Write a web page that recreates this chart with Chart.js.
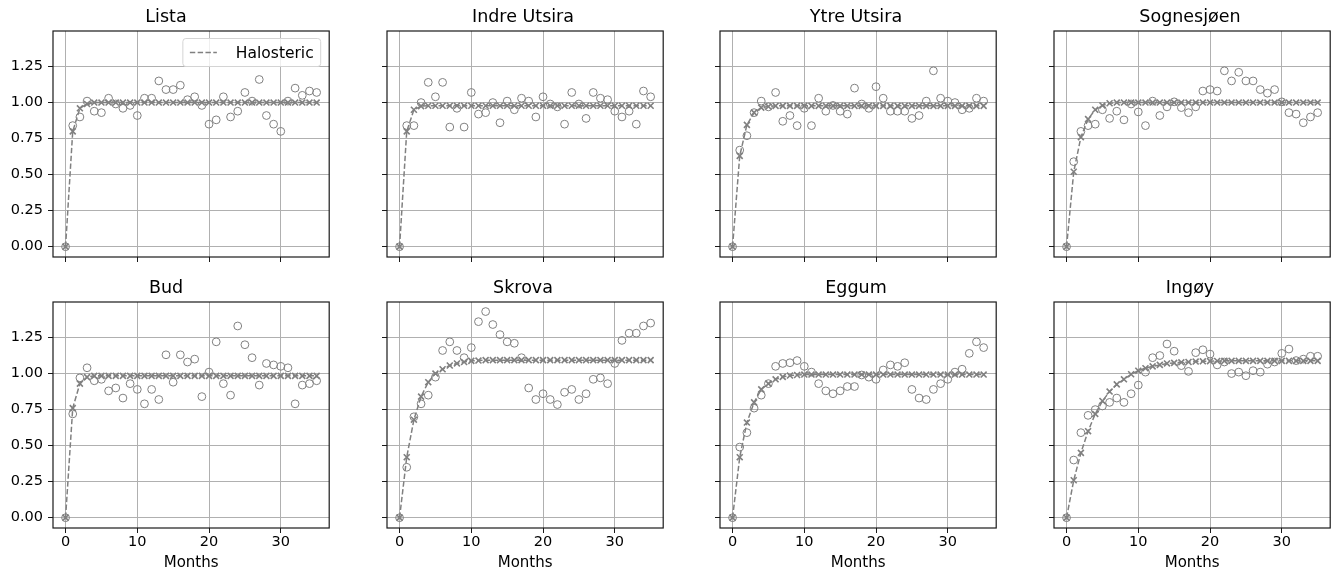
<!DOCTYPE html>
<html>
<head>
<meta charset="utf-8">
<script src="https://cdn.jsdelivr.net/npm/chart.js@4.4.1/dist/chart.umd.min.js"></script>
<style>
  html, body { margin: 0; padding: 0; background: #fff; }
  #fig { position: relative; width: 1335px; height: 575px; overflow: hidden; }
  .cell { position: absolute; }
</style>
</head>
<body>
<div id="fig"></div>
<script>
Chart.defaults.font.family = "'DejaVu Sans', sans-serif";
Chart.defaults.color = '#000';

const GRAY = '#808080';

const MONTHS = [0, 1, 2, 3, 4, 5, 6, 7, 8, 9, 10, 11, 12, 13, 14, 15, 16, 17,
  18, 19, 20, 21, 22, 23, 24, 25, 26, 27, 28, 29, 30, 31, 32, 33, 34, 35];
const X_TICKS = [0, 10, 20, 30];
const Y_TICKS = [0, 0.25, 0.5, 0.75, 1.0, 1.25];

const STATIONS = ['Lista', 'Indre Utsira', 'Ytre Utsira', 'Sognesjøen', 'Bud', 'Skrova', 'Eggum', 'Ingøy'];

// observed (circles)
const LISTA_OBS = [0, 0.84, 0.90, 1.01, 0.94, 0.93, 1.03, 0.99, 0.96, 0.98, 0.91, 1.03, 1.03, 1.15, 1.09, 1.09, 1.12, 1.02,
  1.04, 0.98, 0.85, 0.88, 1.04, 0.90, 0.94, 1.07, 1.01, 1.16, 0.91, 0.85, 0.80, 1.01, 1.10, 1.05, 1.08, 1.07];
const INDRE_OBS = [0, 0.84, 0.84, 1.00, 1.14, 1.04, 1.14, 0.83, 0.96, 0.83, 1.07, 0.92, 0.93, 1.00, 0.86, 1.01, 0.95, 1.03,
  1.01, 0.90, 1.04, 0.99, 0.97, 0.85, 1.07, 0.99, 0.89, 1.07, 1.03, 1.02, 0.94, 0.90, 0.94, 0.85, 1.08, 1.04];
const YTRE_OBS = [0, 0.67, 0.77, 0.93, 1.01, 0.97, 1.07, 0.87, 0.91, 0.84, 0.96, 0.84, 1.03, 0.94, 0.98, 0.94, 0.92, 1.10,
  0.99, 0.96, 1.11, 1.03, 0.94, 0.94, 0.94, 0.89, 0.91, 1.01, 1.22, 1.03, 1.01, 1.00, 0.95, 0.96, 1.03, 1.01];
const SOGN_OBS = [0, 0.59, 0.80, 0.84, 0.85, 0.95, 0.89, 0.94, 0.88, 0.99, 0.935, 0.84, 1.01, 0.91, 0.97, 1.005, 0.965, 0.93,
  0.97, 1.08, 1.09, 1.08, 1.22, 1.15, 1.21, 1.15, 1.15, 1.09, 1.065, 1.09, 1.005, 0.93, 0.92, 0.86, 0.90, 0.93];
const BUD_OBS = [0, 0.72, 0.97, 1.04, 0.95, 0.96, 0.88, 0.90, 0.83, 0.93, 0.89, 0.79, 0.89, 0.82, 1.13, 0.94, 1.13, 1.08,
  1.10, 0.84, 1.01, 1.22, 0.93, 0.85, 1.33, 1.20, 1.11, 0.92, 1.07, 1.06, 1.05, 1.04, 0.79, 0.92, 0.93, 0.95];
const SKROVA_OBS = [0, 0.35, 0.70, 0.79, 0.85, 0.975, 1.16, 1.22, 1.16, 1.11, 1.18, 1.36, 1.43, 1.34, 1.27, 1.22, 1.21, 1.11,
  0.90, 0.82, 0.86, 0.82, 0.785, 0.87, 0.89, 0.82, 0.86, 0.96, 0.97, 0.93, 1.07, 1.23, 1.28, 1.28, 1.33, 1.35];
const EGGUM_OBS = [0, 0.49, 0.59, 0.76, 0.85, 0.93, 1.05, 1.07, 1.075, 1.09, 1.05, 1.01, 0.93, 0.88, 0.86, 0.88, 0.91, 0.91,
  0.99, 0.975, 0.96, 1.025, 1.06, 1.05, 1.075, 0.89, 0.83, 0.82, 0.89, 0.93, 0.96, 1.01, 1.03, 1.14, 1.22, 1.18];
const INGOY_OBS = [0, 0.40, 0.59, 0.71, 0.75, 0.775, 0.80, 0.83, 0.80, 0.86, 0.92, 1.01, 1.11, 1.125, 1.205, 1.155, 1.055, 1.015,
  1.145, 1.165, 1.135, 1.06, 1.08, 1.00, 1.01, 0.985, 1.02, 1.01, 1.065, 1.08, 1.14, 1.17, 1.09, 1.10, 1.12, 1.12];

// fitted halosteric response (x markers, dashed)
const LISTA_FIT = [0, 0.80, 0.96, 0.99, 1.0, 1.0, 1.0, 1.0, 1.0, 1.0, 1.0, 1.0, 1.0, 1.0, 1.0, 1.0, 1.0, 1.0,
  1.0, 1.0, 1.0, 1.0, 1.0, 1.0, 1.0, 1.0, 1.0, 1.0, 1.0, 1.0, 1.0, 1.0, 1.0, 1.0, 1.0, 1.0];
const INDRE_FIT = [0, 0.80, 0.95, 0.975, 0.978, 0.978, 0.978, 0.978, 0.978, 0.978, 0.978, 0.978, 0.978, 0.978, 0.978, 0.978, 0.978, 0.978,
  0.978, 0.978, 0.978, 0.978, 0.978, 0.978, 0.978, 0.978, 0.978, 0.978, 0.978, 0.978, 0.978, 0.978, 0.978, 0.978, 0.978, 0.978];
const YTRE_FIT = [0, 0.63, 0.845, 0.93, 0.965, 0.972, 0.977, 0.977, 0.977, 0.977, 0.977, 0.977, 0.977, 0.977, 0.977, 0.977, 0.977, 0.977,
  0.977, 0.977, 0.977, 0.977, 0.977, 0.977, 0.977, 0.977, 0.977, 0.977, 0.977, 0.977, 0.977, 0.977, 0.977, 0.977, 0.977, 0.977];
const SOGN_FIT = [0, 0.52, 0.76, 0.885, 0.95, 0.98, 0.995, 1.0, 1.0, 1.0, 1.0, 1.0, 1.0, 1.0, 1.0, 1.0, 1.0, 1.0,
  1.0, 1.0, 1.0, 1.0, 1.0, 1.0, 1.0, 1.0, 1.0, 1.0, 1.0, 1.0, 1.0, 1.0, 1.0, 1.0, 1.0, 1.0];
const BUD_FIT = [0, 0.76, 0.93, 0.975, 0.984, 0.984, 0.984, 0.984, 0.984, 0.984, 0.984, 0.984, 0.984, 0.984, 0.984, 0.984, 0.984, 0.984,
  0.984, 0.984, 0.984, 0.984, 0.984, 0.984, 0.984, 0.984, 0.984, 0.984, 0.984, 0.984, 0.984, 0.984, 0.984, 0.984, 0.984, 0.984];
const SKROVA_FIT = [0, 0.42, 0.68, 0.84, 0.94, 1.0, 1.03, 1.056, 1.07, 1.08, 1.088, 1.09, 1.093, 1.093, 1.093, 1.093, 1.093, 1.093,
  1.093, 1.093, 1.093, 1.093, 1.093, 1.093, 1.093, 1.093, 1.093, 1.093, 1.093, 1.093, 1.093, 1.093, 1.093, 1.093, 1.093, 1.093];
const EGGUM_FIT = [0, 0.42, 0.66, 0.80, 0.89, 0.93, 0.96, 0.977, 0.986, 0.99, 0.993, 0.993, 0.993, 0.993, 0.993, 0.993, 0.993, 0.993,
  0.993, 0.993, 0.993, 0.993, 0.993, 0.993, 0.993, 0.993, 0.993, 0.993, 0.993, 0.993, 0.993, 0.993, 0.993, 0.993, 0.993, 0.993];
const INGOY_FIT = [0, 0.26, 0.45, 0.60, 0.72, 0.81, 0.875, 0.925, 0.96, 0.995, 1.02, 1.037, 1.05, 1.06, 1.07, 1.074, 1.078, 1.08,
  1.083, 1.085, 1.086, 1.087, 1.088, 1.088, 1.088, 1.088, 1.088, 1.088, 1.088, 1.088, 1.088, 1.088, 1.088, 1.088, 1.088, 1.088];

const OBS = [LISTA_OBS, INDRE_OBS, YTRE_OBS, SOGN_OBS, BUD_OBS, SKROVA_OBS, EGGUM_OBS, INGOY_OBS];
const FIT = [LISTA_FIT, INDRE_FIT, YTRE_FIT, SOGN_FIT, BUD_FIT, SKROVA_FIT, EGGUM_FIT, INGOY_FIT];

// subplot geometry (plot area of each panel)
const AX_LEFT = [53, 387, 720, 1054];
const AX_TOP = [31, 302];
const AX_W = 279;
const AX_H = 226;
const TITLE_H = 31;

const toPoints = (ys) => MONTHS.map((m, i) => ({ x: m, y: ys[i] }));

// black frame round the plot area, like matplotlib spines
const frame = {
  id: 'frame',
  afterDatasetsDraw(chart) {
    const { ctx, chartArea: a } = chart;
    ctx.save();
    ctx.strokeStyle = '#1a1a1a';
    ctx.lineWidth = 1.2;
    ctx.strokeRect(a.left, a.top, a.right - a.left, a.bottom - a.top);
    ctx.restore();
  }
};

// legend box drawn inside the plot area (upper right)
const legendInside = {
  id: 'legendInside',
  afterDraw(chart, args, opts) {
    if (!opts.show) return;
    const ds = chart.data.datasets[0];
    const { ctx, chartArea } = chart;
    ctx.save();
    ctx.font = "15.5px 'DejaVu Sans'";
    const tw = ctx.measureText(ds.label).width;
    const w = 7 + 27 + 19 + tw + 7, h = 28;
    const x = chartArea.right - 8.5 - w, y = chartArea.top + 7.5;
    ctx.beginPath();
    ctx.roundRect(x, y, w, h, 3);
    ctx.fillStyle = 'rgba(255,255,255,0.8)';
    ctx.fill();
    ctx.strokeStyle = '#d4d4d4';
    ctx.lineWidth = 1;
    ctx.stroke();
    ctx.beginPath();
    ctx.setLineDash(ds.borderDash);
    ctx.moveTo(x + 7, y + h / 2);
    ctx.lineTo(x + 34, y + h / 2);
    ctx.strokeStyle = ds.borderColor;
    ctx.lineWidth = ds.borderWidth;
    ctx.stroke();
    ctx.setLineDash([]);
    ctx.fillStyle = '#000';
    ctx.textBaseline = 'middle';
    ctx.fillText(ds.label, x + 53, y + h / 2 + 1);
    ctx.restore();
  }
};

const fig = document.getElementById('fig');

STATIONS.forEach((name, i) => {
  const row = Math.floor(i / 4), col = i % 4;
  const yw = col === 0 ? 53 : 7;
  const xh = row === 1 ? 47 : 7;

  const div = document.createElement('div');
  div.className = 'cell';
  div.style.left = (AX_LEFT[col] - yw) + 'px';
  div.style.top = (AX_TOP[row] - TITLE_H) + 'px';
  div.style.width = (yw + AX_W + 3) + 'px';
  div.style.height = (TITLE_H + AX_H + xh) + 'px';
  const canvas = document.createElement('canvas');
  div.appendChild(canvas);
  fig.appendChild(div);

  new Chart(canvas.getContext('2d'), {
    type: 'scatter',
    data: {
      datasets: [
        {
          label: 'Halosteric',
          data: toPoints(FIT[i]),
          showLine: true,
          borderColor: GRAY,
          borderWidth: 1.5,
          borderDash: [5.4, 2.4],
          pointStyle: 'crossRot',
          pointRadius: 4.2,
          pointBorderWidth: 1.6,
          pointBorderColor: GRAY,
          pointBackgroundColor: GRAY
        },
        {
          label: 'Observed',
          data: toPoints(OBS[i]),
          showLine: false,
          pointStyle: 'circle',
          pointRadius: 3.9,
          pointBorderWidth: 1,
          pointBorderColor: GRAY,
          pointBackgroundColor: 'rgba(0,0,0,0)'
        }
      ]
    },
    options: {
      responsive: true,
      maintainAspectRatio: false,
      animation: false,
      layout: { padding: { right: 3 } },
      scales: {
        x: {
          type: 'linear',
          min: -1.75,
          max: 36.75,
          bounds: 'data',
          afterBuildTicks: (s) => { s.ticks = X_TICKS.map(v => ({ value: v })); },
          afterFit: (s) => {
            s.height = xh;
            s.paddingLeft = 0;
            s.paddingRight = 0;
          },
          ticks: {
            display: row === 1,
            font: { size: 14.5 },
            padding: 1,
            maxRotation: 0,
            callback: (v) => String(v)
          },
          grid: { color: '#b0b0b0', lineWidth: 1, tickLength: 5, tickColor: '#1a1a1a', tickWidth: 1 },
          border: { display: false },
          title: {
            display: row === 1,
            text: 'Months',
            font: { size: 15 },
            padding: { top: 0, bottom: 3 }
          }
        },
        y: {
          type: 'linear',
          min: -0.0713,
          max: 1.4963,
          bounds: 'data',
          afterBuildTicks: (s) => { s.ticks = Y_TICKS.map(v => ({ value: v })); },
          afterFit: (s) => {
            s.width = yw;
            s.paddingTop = 0;
            s.paddingBottom = 0;
          },
          ticks: {
            display: col === 0,
            font: { size: 14.5 },
            padding: 5,
            callback: (v) => Number(v).toFixed(2)
          },
          grid: { color: '#b0b0b0', lineWidth: 1, tickLength: 5, tickColor: '#1a1a1a', tickWidth: 1 },
          border: { display: false }
        }
      },
      plugins: {
        legend: { display: false },
        tooltip: { enabled: false },
        title: {
          display: true,
          text: name,
          color: '#000',
          font: { size: 17.5, weight: 'normal', lineHeight: '20px' },
          padding: { top: 7, bottom: 4 }
        },
        legendInside: { show: i === 0 }
      }
    },
    plugins: [frame, legendInside]
  });
});
</script>
</body>
</html>
